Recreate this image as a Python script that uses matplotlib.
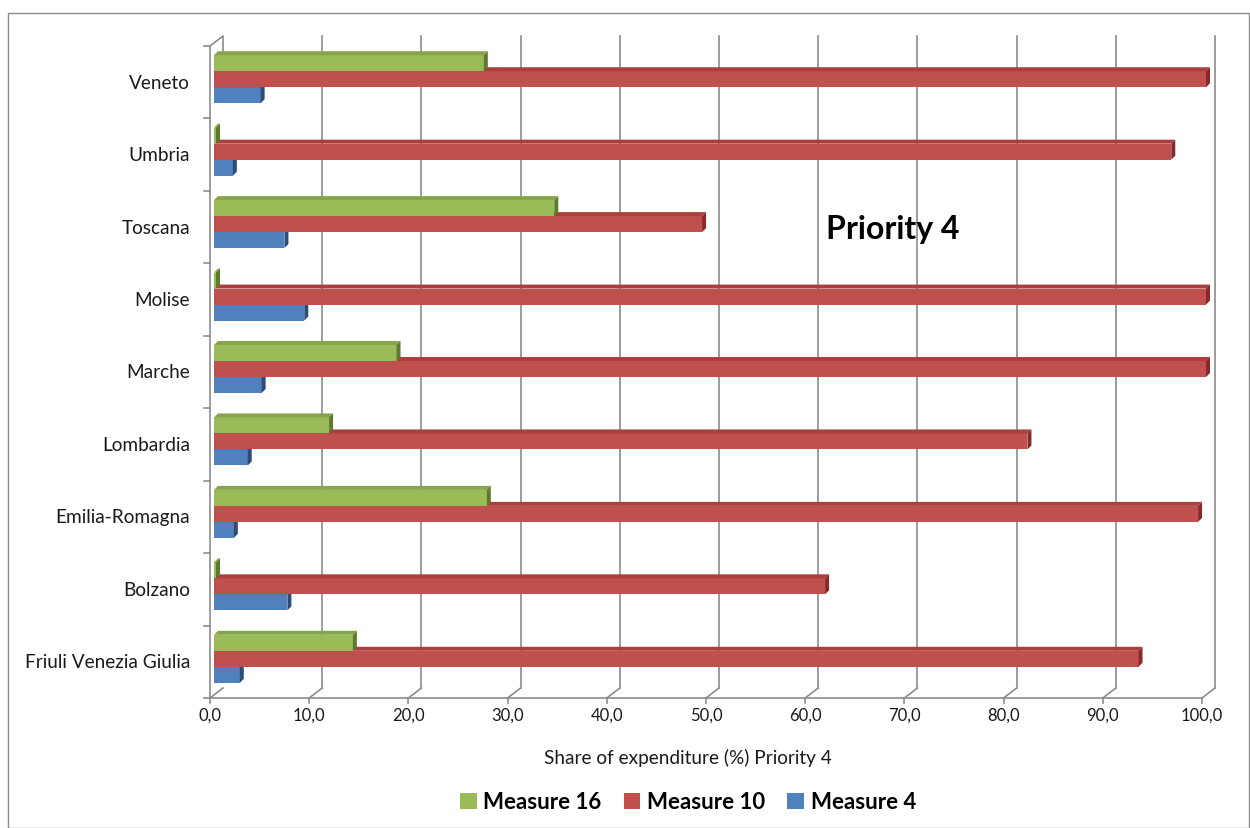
import matplotlib
matplotlib.use('Agg')
import matplotlib.pyplot as plt
import matplotlib.transforms as mtransforms
from matplotlib.patches import Polygon, Rectangle, Patch
import numpy as np

plt.rcParams['font.family'] = ['Lato', 'DejaVu Sans']

# data
regions = ['Friuli Venezia Giulia', 'Bolzano', 'Emilia-Romagna', 'Lombardia',
           'Marche', 'Molise', 'Toscana', 'Umbria', 'Veneto']
measure_16 = [14.0, 0.2, 27.5, 11.6, 18.4, 0.2, 34.3, 0.2, 27.2]
measure_10 = [93.2, 61.6, 99.2, 82.0, 100.0, 100.0, 49.2, 96.5, 100.0]
measure_4 = [2.6, 7.4, 2.0, 3.4, 4.8, 9.1, 7.1, 1.9, 4.7]
series_names = ['Measure 16', 'Measure 10', 'Measure 4']
x_ticks = list(range(0, 101, 10))
x_tick_labels = [f'{t:.1f}'.replace('.', ',') for t in x_ticks]

# face, top, side colours per series
colors = {
    'Measure 16': ('#9BBB59', '#86A54A', '#5E7A2B'),
    'Measure 10': ('#C0504D', '#A9403D', '#862B29'),
    'Measure 4': ('#4F81BD', '#41699C', '#2B4D78'),
}

W, H = 1250, 829
fig = plt.figure(figsize=(W / 100, H / 100), dpi=100)
fig.patch.set_facecolor('white')

# front plane of the plot area, in pixels
x0_px, x1_px, ytop_px, ybot_px = 210, 1202, 47, 699
ax = fig.add_axes([x0_px / W, (H - ybot_px) / H,
                   (x1_px - x0_px) / W, (ybot_px - ytop_px) / H])
ax.set_xlim(0, 100)
ax.set_ylim(-0.5, len(regions) - 0.5)
ax.axis('off')

ux = 100 / (x1_px - x0_px)           # data units per pixel
uy = len(regions) / (ybot_px - ytop_px)

grid_c = '#8C8C8C'
wall_dx, wall_dy = 13 * ux, 10 * uy
ylo, yhi = -0.5, len(regions) - 0.5

# back wall gridlines with the floor diagonals
for t in x_ticks:
    ax.plot([t, t], [ylo - 5 * uy, ylo], color=grid_c, lw=1.2, clip_on=False, zorder=1)
    ax.plot([t, t + wall_dx], [ylo, ylo + wall_dy], color=grid_c, lw=1.2, clip_on=False, zorder=1)
    if t > 0:
        ax.plot([t + wall_dx, t + wall_dx], [ylo + wall_dy, yhi + wall_dy],
                color=grid_c, lw=1.2, clip_on=False, zorder=1)
ax.plot([0, 100], [ylo, ylo], color=grid_c, lw=1.2, clip_on=False, zorder=1)

# left wall
ax.plot([0, 0], [ylo, yhi], color=grid_c, lw=1.2, clip_on=False, zorder=1)
ax.plot([0, wall_dx, wall_dx], [yhi, yhi + wall_dy, yhi + wall_dy - 18 * uy],
        color=grid_c, lw=1.2, clip_on=False, zorder=1)
for b in np.arange(ylo, yhi + 0.01, 1.0):
    ax.plot([-6 * ux, 0], [b, b], color=grid_c, lw=1.2, clip_on=False, zorder=1)

# bars with a little depth
bar_h = 16 * uy
bar_x0 = 4 * ux
bar_dy = 3 * uy
depth_x, depth_y = 4 * ux, 4 * uy
ypos = np.arange(len(regions))
offsets = {'Measure 16': bar_h, 'Measure 10': 0.0, 'Measure 4': -bar_h}
values = {'Measure 16': measure_16, 'Measure 10': measure_10, 'Measure 4': measure_4}

z = 2
for name in ['Measure 4', 'Measure 10', 'Measure 16']:
    face, top, side = colors[name]
    yc = ypos + offsets[name] + bar_dy
    bars = ax.barh(yc, values[name], height=bar_h, left=bar_x0, color=face,
                   edgecolor='none', zorder=z)
    for b in bars:
        b.set_clip_on(False)
    for y, v in zip(yc, values[name]):
        yt, yb = y + bar_h / 2, y - bar_h / 2
        xe = bar_x0 + v
        ax.add_patch(Polygon([(bar_x0, yt), (xe, yt), (xe + depth_x, yt + depth_y),
                              (bar_x0 + depth_x, yt + depth_y)],
                             closed=True, facecolor=top, edgecolor='none',
                             zorder=z, clip_on=False))
        ax.add_patch(Polygon([(xe, yb), (xe, yt), (xe + depth_x, yt + depth_y),
                              (xe + depth_x, yb + depth_y)],
                             closed=True, facecolor=side, edgecolor='none',
                             zorder=z, clip_on=False))
    z += 1

# category labels
for y, name in zip(ypos, regions):
    ax.text(-20 * ux, y, name, ha='right', va='center', fontsize=13.7, color='#1a1a1a')

# x tick labels
blend = mtransforms.blended_transform_factory(ax.transData, fig.transFigure)
for t, lab in zip(x_ticks, x_tick_labels):
    ax.text(t, 1 - 716 / H, lab, transform=blend, ha='center', va='center',
            fontsize=12, color='#1a1a1a')

fig.text(688 / W, 1 - 758 / H, 'Share of expenditure (%) Priority 4',
         ha='center', va='center', fontsize=13.7, color='#1a1a1a')

fig.text(826 / W, 1 - 229 / H, 'Priority 4', ha='left', va='center',
         fontsize=23, fontweight='bold', color='black')

handles = [Patch(facecolor=colors[n][0], edgecolor='none', label=n) for n in series_names]
fig.legend(handles=handles, loc='center', bbox_to_anchor=(688 / W, 1 - 803 / H),
           ncol=3, frameon=False, prop={'weight': 'bold', 'size': 16},
           handlelength=0.75, handleheight=0.75, handletextpad=0.3, columnspacing=1.0)

# outer chart border
fig.add_artist(Rectangle((8 / W, 0.5 / H), (W - 9) / W, (H - 14) / H,
                         transform=fig.transFigure, fill=False,
                         edgecolor='#8C8C8C', lw=1))

fig.savefig('out.png', dpi=100, facecolor='white')
